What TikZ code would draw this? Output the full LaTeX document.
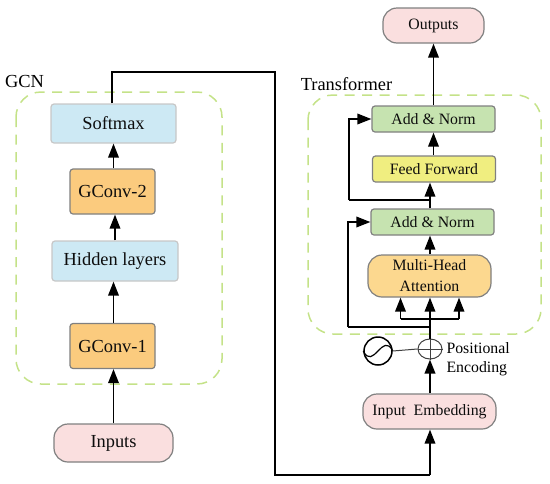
\documentclass[tikz,border=0pt]{standalone}
\usepackage{fontspec}
\setmainfont{Liberation Serif}
\usetikzlibrary{calc, arrows.meta, shapes.geometric}

\begin{document}
\begin{tikzpicture}[x=1pt, y=-1pt,
  bigtext/.style={font=\fontsize{18.4}{20}\selectfont},
  smalltext/.style={font=\fontsize{15.8}{18}\selectfont},
  flow/.style={line width=1.8pt, -{Triangle[length=14pt,width=10.5pt]}},
  wire/.style={line width=1.8pt},
  thinwire/.style={line width=1pt, black!75},
  group/.style={draw=groupgreen, line width=1.5pt, dash pattern=on 10pt off 7.5pt, rounded corners=25pt},
  boxbase/.style={draw=black!50, line width=1.2pt, inner sep=0pt, text=black!95},
  block/.style={boxbase, rounded corners=3pt},
  pill/.style={boxbase, rounded corners=14pt},
  softbox/.style={block, bigtext, fill=softblue, draw=black!22},
  convbox/.style={block, bigtext, fill=convorange, minimum width=85pt, minimum height=45pt},
  normbox/.style={block, smalltext, fill=normgreen, minimum width=123pt, minimum height=26pt},
  ffbox/.style={block, smalltext, fill=ffyellow, minimum width=123pt, minimum height=26pt},
  attbox/.style={pill, smalltext, fill=attorange, align=center, minimum width=123pt, minimum height=42pt},
  iobox/.style={pill, fill=iopink}]
  \definecolor{groupgreen}{HTML}{C4E288}
  \definecolor{softblue}{HTML}{CDE9F4}
  \definecolor{convorange}{HTML}{FBCB7E}
  \definecolor{normgreen}{HTML}{C6E3B0}
  \definecolor{ffyellow}{HTML}{F0EE80}
  \definecolor{attorange}{HTML}{FCD88F}
  \definecolor{iopink}{HTML}{FADFDF}
  \useasboundingbox (0,0) rectangle (550,483);

  % dashed groups
  \draw[group] (16,92) rectangle (222,384);
  \draw[group] (308,95) rectangle (541,334);
  \node[bigtext] (gcnlabel) at (24.5,81) {GCN};
  \node[bigtext] (translabel) at (346.5,84) {Transformer};

  % left column
  \node[iobox, bigtext, minimum width=119pt, minimum height=38pt] (inputs) at (113.5,443) {Inputs};
  \node[convbox] (gconva) at (112.5,346) {GConv-1};
  \node[softbox, minimum width=126pt, minimum height=40pt] (hidden) at (115,261) {Hidden layers};
  \node[convbox] (gconvb) at (112.5,191.5) {GConv-2};
  \node[softbox, minimum width=125pt, minimum height=39pt] (softmax) at (113.5,123.5) {Softmax};

  % right column
  \node[iobox, smalltext, minimum width=133pt, minimum height=35pt] (embed) at (429.5,411.5) {Input\ \ Embedding};
  \node[ellipse, draw=black!75, line width=1pt, inner sep=0pt, minimum width=24pt, minimum height=20pt] (oplus) at (430,349) {};
  \node[circle, draw=black, line width=1.5pt, inner sep=0pt, minimum size=28pt] (sine) at (378,351) {};
  \node[attbox] (mha) at (429.5,276) {Multi-Head\\[3pt]Attention};
  \node[normbox] (norma) at (432.5,222) {Add \& Norm};
  \node[ffbox] (ff) at (434,169) {Feed Forward};
  \node[normbox] (normb) at (433.5,119) {Add \& Norm};
  \node[iobox, smalltext, minimum width=101pt, minimum height=35pt] (outputs) at (433.5,25.5) {Outputs};
  \node[smalltext, align=left, anchor=west] (poslabel) at (443,359) {Positional\\[1pt]Encoding};

  % left arrows
  \draw[flow] (inputs.north) -- (inputs.north |- gconva.south);
  \draw[flow] (inputs.north |- gconva.north) -- (inputs.north |- hidden.south);
  \draw[flow] (hidden.north) -- (hidden.north |- gconvb.south);
  \draw[flow] (softmax.south |- gconvb.north) -- (softmax.south);

  % long link
  \coordinate (linkup) at (112,72);
  \coordinate (linkdown) at (275,475);
  \draw[wire] (linkup |- softmax.north) -- (linkup) -| (linkdown) -| (oplus.south |- linkdown);
  \draw[flow] (oplus.south |- linkdown) -- (oplus.south |- embed.south);

  % sine and adder
  \draw[line width=1.2pt] (sine.west) .. controls +(10,20) and +(-10,-20) .. (sine.east);
  \draw[thinwire] (sine.east) -- (oplus.west);
  \draw[thinwire] (oplus.west) -- (oplus.east);
  \draw[thinwire] (oplus.north) -- (oplus.south);
  \draw[flow] (oplus.south |- embed.north) -- (oplus.south);
  \draw[flow] (oplus.north) -- (oplus.north |- mha.south);

  % attention inputs
  \coordinate (splitleft) at (400.5,319);
  \coordinate (splitright) at (459,319);
  \draw[wire] (splitleft) -- (splitright);
  \draw[flow] (splitleft) -- (splitleft |- mha.south);
  \draw[flow] (splitright) -- (splitright |- mha.south);

  % skip links
  \coordinate (skipa) at (348,327);
  \coordinate (skipb) at (349,200);
  \draw[wire] (oplus.north |- skipa) -- (skipa);
  \draw[flow] (skipa) |- (norma.west);
  \draw[wire] (oplus.north |- skipb) -- (skipb);
  \draw[flow] (skipb) |- (normb.west);

  % upper arrows
  \draw[flow] (oplus.north |- mha.north) -- (oplus.north |- norma.south);
  \draw[flow] (oplus.north |- norma.north) -- (oplus.north |- ff.south);
  \draw[flow] (outputs.south |- ff.north) -- (outputs.south |- normb.south);
  \draw[flow] (outputs.south |- normb.north) -- (outputs.south);
\end{tikzpicture}
\end{document}
